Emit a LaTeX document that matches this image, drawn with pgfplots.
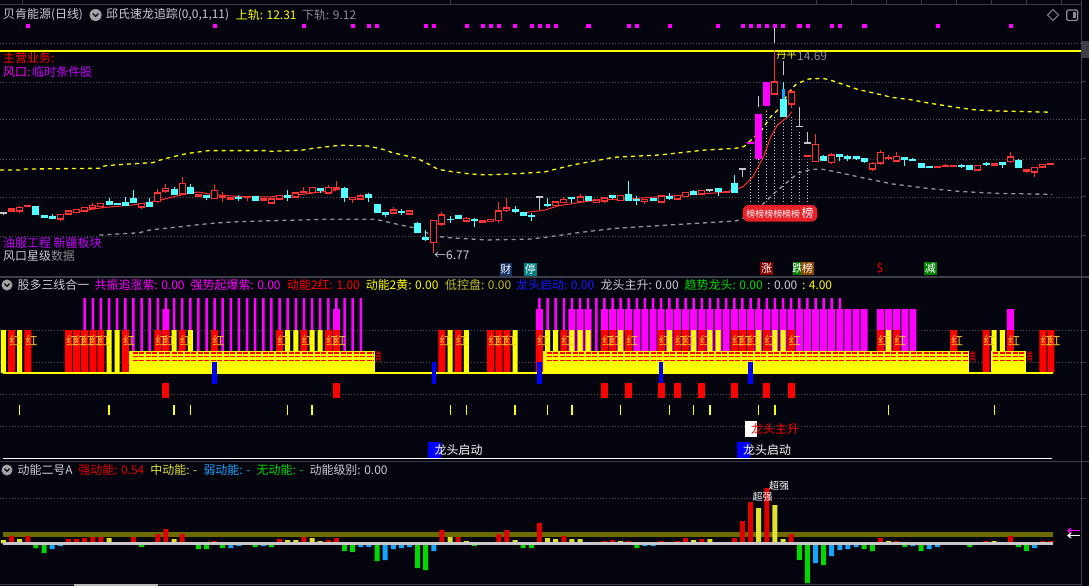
\documentclass[border=0pt]{standalone}
\usepackage{pgfplots}
\pgfplotsset{compat=1.18}
\usepackage{pgfplotstable}
\usepackage{fontspec}
\setmainfont{Noto Sans CJK SC}

\definecolor{bg}{RGB}{4,4,14}
\definecolor{gridc}{RGB}{80,80,90}
\definecolor{sepc}{RGB}{62,62,72}
\definecolor{candr}{RGB}{255,50,50}
\definecolor{candc}{RGB}{84,255,255}
\definecolor{candg}{RGB}{200,200,200}
\definecolor{mag}{RGB}{255,0,255}
\definecolor{purp}{RGB}{200,0,255}
\definecolor{yel}{RGB}{255,255,0}
\definecolor{lgray}{RGB}{205,205,210}
\definecolor{dgray}{RGB}{140,140,145}
\definecolor{lowband}{RGB}{150,150,150}
\definecolor{hong}{RGB}{245,200,40}
\definecolor{kred}{RGB}{225,0,0}
\definecolor{kyel}{RGB}{225,225,50}
\definecolor{kgrn}{RGB}{0,215,0}
\definecolor{kblu}{RGB}{20,165,255}
\definecolor{olive}{RGB}{107,107,0}
\definecolor{band}{RGB}{200,200,200}
\definecolor{lbred}{RGB}{232,32,40}

\newcommand{\tf}{\fontsize{12}{14}\selectfont}

% candles: index, low, body low, body high, high
\pgfplotstableread{
i l bl bh h
1 8.401 8.401 8.479 8.479
2 8.310 8.388 8.544 8.596
3 8.570 8.570 8.622 8.622
7 8.023 8.075 8.271 8.271
8 8.271 8.284 8.401 8.440
9 8.310 8.336 8.466 8.466
10 8.388 8.388 8.544 8.544
11 8.466 8.518 8.622 8.700
12 8.570 8.570 8.700 8.700
17 8.492 8.544 8.700 8.726
19 8.700 8.766 9.104 9.247
20 9.091 9.182 9.286 9.456
22 9.026 9.065 9.482 9.742
24 8.974 8.974 9.026 9.026
26 8.857 8.883 9.208 9.417
27 8.766 8.922 8.961 9.156
28 8.818 8.857 8.935 8.961
30 8.805 8.922 8.974 8.974
32 8.779 8.818 8.883 8.922
33 8.700 8.700 8.870 8.870
34 8.857 8.857 9.013 9.013
36 8.896 8.948 9.104 9.104
37 9.091 9.117 9.169 9.325
38 9.117 9.117 9.325 9.325
40 9.091 9.091 9.325 9.404
41 9.221 9.260 9.325 9.573
43 8.726 8.844 8.935 8.961
44 8.831 8.857 8.987 9.065
48 8.310 8.310 8.440 8.544
50 8.271 8.271 8.401 8.401
53 6.773 7.164 8.049 8.049
54 7.828 7.893 8.245 8.375
57 7.971 7.997 8.127 8.154
59 7.971 7.971 8.023 8.023
60 7.997 7.997 8.088 8.088
61 7.945 8.023 8.401 8.752
62 8.375 8.427 8.518 8.896
68 8.610 8.610 8.753 8.753
69 8.701 8.727 8.857 8.935
71 8.740 8.766 8.948 9.052
73 8.740 8.740 8.831 8.831
74 8.727 8.792 8.922 8.961
76 8.805 8.805 9.013 9.013
79 8.675 8.766 8.857 8.857
81 8.740 8.740 8.987 8.987
83 8.857 8.857 9.013 9.013
84 8.961 8.961 9.130 9.130
86 9.065 9.065 9.209 9.209
89 9.117 9.117 9.157 9.157
95 12.959 12.959 13.453 14.690
97 12.412 12.568 13.063 13.154
99 10.537 10.537 10.563 10.563
100 10.329 10.329 11.005 11.396
102 10.224 10.289 10.589 10.654
107 9.977 10.029 10.263 10.329
108 10.198 10.263 10.693 10.784
109 10.394 10.459 10.485 10.589
110 10.342 10.342 10.537 10.719
115 10.107 10.107 10.133 10.133
116 10.133 10.146 10.172 10.224
117 10.133 10.133 10.185 10.185
120 9.990 9.990 10.185 10.185
122 10.185 10.185 10.263 10.263
124 10.289 10.329 10.511 10.693
126 9.873 9.951 10.029 10.029
127 9.742 9.912 10.107 10.133
128 10.107 10.107 10.224 10.224
129 10.198 10.224 10.250 10.276
}\upc

\pgfplotstableread{
i l bl bh h
4 8.271 8.271 8.583 8.583
5 8.114 8.141 8.206 8.245
6 8.114 8.114 8.180 8.271
13 8.635 8.674 8.766 8.909
14 8.622 8.661 8.687 8.726
15 8.609 8.609 8.726 8.935
16 8.726 8.726 8.870 9.221
18 8.570 8.570 8.752 8.896
21 9.013 9.039 9.247 9.351
23 9.065 9.078 9.325 9.456
25 8.818 8.922 9.013 9.013
29 8.805 8.909 8.935 9.013
31 8.779 8.818 8.961 8.987
35 8.805 8.922 8.987 9.208
39 9.117 9.195 9.273 9.299
42 8.739 8.922 9.260 9.351
45 8.766 8.922 9.039 9.117
46 8.336 8.336 8.635 8.635
47 8.154 8.271 8.336 8.375
49 8.258 8.362 8.388 8.479
51 7.568 7.568 7.919 7.984
52 7.216 7.307 7.372 7.659
55 7.945 8.062 8.088 8.206
56 8.075 8.114 8.206 8.245
58 7.789 8.036 8.062 8.114
63 8.310 8.401 8.440 8.596
64 8.232 8.232 8.336 8.336
65 8.023 8.206 8.232 8.310
67 8.571 8.623 8.649 8.896
70 8.701 8.883 8.909 8.961
72 8.792 8.805 8.948 8.948
75 8.870 8.935 9.000 9.026
77 8.805 8.805 9.026 9.573
78 8.649 8.805 8.831 8.987
80 8.805 8.805 8.870 8.870
82 8.831 8.896 8.961 9.091
85 9.026 9.065 9.143 9.222
88 9.000 9.157 9.261 9.300
90 9.117 9.117 9.456 9.808
96 12.086 12.086 12.763 13.453
101 10.368 10.368 10.511 10.589
103 10.368 10.524 10.589 10.615
104 10.368 10.433 10.524 10.589
105 10.394 10.433 10.524 10.550
106 10.289 10.342 10.433 10.433
111 10.172 10.394 10.485 10.485
112 10.355 10.355 10.394 10.459
113 10.068 10.094 10.237 10.263
114 10.068 10.120 10.146 10.172
118 10.094 10.159 10.185 10.224
119 10.029 10.029 10.159 10.159
121 10.172 10.224 10.263 10.302
123 10.094 10.237 10.302 10.302
125 10.068 10.094 10.368 10.420
}\downc

\pgfplotstableread{
i l bl bh h
92 11.030 11.030 11.060 11.060
93 10.459 10.459 12.151 12.151
94 12.503 12.503 13.414 13.414
}\magc

\pgfplotstableread{
i l bl bh h
0 8.245 8.297 8.323 8.375
66 8.440 8.948 8.974 8.974
87 9.157 9.196 9.222 9.261
91 9.742 10.016 10.042 10.042
98 11.683 11.683 11.709 12.451
99 11.045 11.045 11.058 11.500
}\grayc

\pgfplotstableread{
i lo hi
93 12.477 12.893
95 14.960 15.550
96 13.714 14.274
}\grayw

\pgfplotstableread{
i lo hi
92 8.74 10.85
93 8.74 10.46
94 8.74 12.35
95 8.74 12.09
96 8.74 11.89
97 8.74 12.09
98 8.74 11.50
99 8.74 10.33
}\guides

\pgfplotstableread{
i lo hi
96 12.763 13.167
}\bluein

% middle panel
\pgfplotstableread{
i v
1 43
3 43
8 43
9 43
10 43
11 43
12 43
15 43
19 43
20 43
22 43
26 43
34 43
37 43
40 43
41 43
54 43
56 43
60 43
61 43
62 43
66 43
69 43
74 43
75 43
77 43
81 43
83 43
84 43
86 43
90 43
91 43
92 43
94 43
97 43
108 43
110 43
117 43
121 43
124 43
128 43
129 43
}\redbars

\pgfplotstableread{
i lo hi
26 -11 11
53 -11 11
66 -11 11
81 -11 11
92 -11 11
}\bluebars

\pgfplotstableread{
i lo hi
20 -25 -10
41 -25 -10
74 -25 -10
77 -25 -10
81 -25 -10
83 -25 -10
86 -25 -10
90 -25 -10
94 -25 -10
97 -25 -10
}\lowred

\pgfplotstableread{
i lo hi
2 -42 -32
13 -42 -32
21 -42 -32
23 -42 -32
35 -42 -32
38 -42 -32
55 -42 -32
57 -42 -32
63 -42 -32
67 -42 -32
70 -42 -32
76 -42 -32
82 -42 -32
85 -42 -32
87 -42 -32
93 -42 -32
95 -42 -32
109 -42 -32
122 -42 -32
}\ticksy

\pgfplotstableread{
i v
45.7 16.5
118.9 16.5
125.9 16.5
}\qingpos

% bottom panel: heights above / below the base band
\pgfplotstableread{
i v
1 6
3 6
8 3
9 3
10 4
11 5
12 5
16 5
19 8
20 13
22 8
26 1
34 3
37 5
40 2
41 4
54 12
56 5
61 8
62 12
66 19
69 6
74 1
75 2
77 1
81 1
83 1
84 4
86 3
90 4
91 21
92 40
94 54
97 8
108 4
110 1
121 1
124 6
128 1
129 1
}\ered

\pgfplotstableread{
i v
0 2
2 3
13 4
21 3
35 2
36 2
38 4
39 1
55 5
57 1
63 2
67 4
68 3
70 3
71 3
76 1
85 2
87 3
93 34
95 37
96 3
109 1
122 1
}\eyel

\pgfplotstableread{
i v
4 3.3
5 8.3
17 2.3
24 4.3
25 4.3
27 3.3
31 2.3
33 2.3
42 6.3
43 7.3
46 16.3
51 23.3
52 25.3
58 1.3
64 3.3
65 3.3
78 3.3
98 15.3
99 38.3
101 20.3
106 4.3
107 6.3
111 2.3
113 6.3
119 2.3
125 2.3
126 6.3
}\egrn

\pgfplotstableread{
i v
6 4.3
7 1.3
28 3.3
29 1.3
32 1.3
44 2.3
45 2.3
47 15.3
48 4.3
49 3.3
50 2.3
53 6.3
79 1.3
80 1.3
100 18.3
102 11.3
103 5.3
104 4.3
105 2.3
112 1.3
114 4.3
115 2.3
127 3.3
}\eblu

% vertical spans drawn as wide error bars
\newcommand{\spans}[4][]{\addplot[draw=none, mark=none, forget plot,
  error bars/.cd, y dir=plus, y explicit, error mark=none,
  error bar style={draw=#3, solid, line width=#4, #1}]
  table[x=i, y=lo, y error plus expr=\thisrow{hi}-\thisrow{lo}] {#2};}
\newcommand{\wicks}[2]{\addplot[draw=none, mark=none, forget plot,
  error bars/.cd, y dir=plus, y explicit, error mark=none,
  error bar style={draw=#2, solid, line width=1bp}]
  table[x=i, y=l, y error plus expr=\thisrow{h}-\thisrow{l}] {#1};}
\newcommand{\bodies}[2]{\addplot[draw=none, mark=none, forget plot,
  error bars/.cd, y dir=plus, y explicit, error mark=none,
  error bar style={draw=#2, solid, line width=7bp}]
  table[x=i, y expr=\thisrow{bl}-0.02, y error plus expr=\thisrow{bh}-\thisrow{bl}+0.04] {#1};}
\newcommand{\hollow}[1]{\addplot[draw=none, mark=none, forget plot,
  error bars/.cd, y dir=plus, y explicit, error mark=none,
  error bar style={draw=bg, solid, line width=5bp}]
  table[x=i, y expr=\thisrow{bl}+0.039, y error plus expr={max(\thisrow{bh}-\thisrow{bl}-0.078,0)}] {#1};}

\pgfplotsset{panel/.style={scale only axis, width=1081.5bp, anchor=north west,
  xmin=-0.431, xmax=132.76, axis line style={draw=none},
  xtick=\empty, yticklabels={}, major tick length=0pt,
  ymajorgrids, major grid style={gridc, line width=0.8bp, dash pattern=on 1bp off 2bp}}}

\begin{document}
\begin{tikzpicture}[x=1bp, y=1bp]
\useasboundingbox (0,0) rectangle (1089,-586);
\fill[bg] (0,0) rectangle (1089,-586);

% ---------- price panel ----------
\begin{axis}[panel, at={(0bp,0bp)}, height=277bp, ymin=5.823, ymax=16.643,
  ytick={7.42,8.95,10.43,11.96,13.44,14.96}]
\addplot[yel, line width=2.2bp] coordinates {(-0.5,14.65)(133,14.65)};
\addplot[yel, line width=1.3bp, dash pattern=on 4bp off 4bp] coordinates {
(-0.43,10.00)(2.14,10.00)(2.57,10.04)(12.0,10.07)(12.4,10.16)(13.7,10.20)(16.7,10.26)(18.4,10.29)(19.3,10.39)(20.1,10.46)(21.8,10.59)(22.7,10.65)(25.3,10.76)(32.5,10.76)(33.0,10.73)(36.8,10.78)(38.1,10.85)(40.7,10.94)(41.5,10.97)(44.9,10.94)(46.7,10.81)(47.9,10.68)(50.9,10.46)(52.2,10.26)(53.5,10.03)(55.2,9.94)(57.4,9.85)(59.5,9.81)(63.8,9.87)(66.7,9.93)(70.1,10.20)(75.2,10.50)(80.8,10.59)(86.3,10.78)(90.2,10.85)(91.2,10.92)(92.3,11.24)(93.4,11.57)(94.5,12.09)(95.8,12.48)(96.6,13.00)(97.5,13.32)(98.3,13.45)(99.2,13.56)(100.9,13.58)(101.8,13.52)(103.0,13.39)(105.2,13.15)(107.7,12.97)(109.4,12.84)(111.9,12.74)(113.7,12.63)(117.5,12.44)(119.7,12.35)(122.3,12.31)(128.9,12.26)};
\addplot[lowband, line width=1.3bp, dash pattern=on 4bp off 4bp] coordinates {
(11.8,7.46)(16.7,7.55)(18.0,7.66)(21.0,7.76)(24.4,7.88)(27.0,7.95)(29.5,7.99)(39.8,8.08)(45.8,8.08)(48.4,7.89)(50.9,7.72)(53.1,7.42)(54.8,7.36)(59.5,7.27)(64.6,7.30)(66.7,7.37)(70.9,7.56)(75.2,7.72)(83.8,7.89)(90.2,8.01)(91.5,8.18)(93.2,8.57)(94.9,9.09)(96.6,9.55)(97.9,9.90)(99.6,10.03)(100.9,10.03)(103.0,9.90)(105.2,9.74)(109.4,9.46)(113.7,9.29)(118.0,9.16)(122.3,9.09)(129.1,9.05)};
\spans[dash pattern=on 1.5bp off 1.5bp]{\guides}{lgray}{1bp}
\addplot[candr, line width=1bp] coordinates {
(9.0,8.375)(12.4,8.54)(15.4,8.62)(16.7,8.67)(18.8,8.79)(21.0,8.96)(22.7,9.09)(24.0,9.14)(26.0,9.03)(30.0,8.95)(34.0,8.96)(37.0,9.06)(39.0,9.14)(41.0,9.20)};
\addplot[candr, line width=1bp] coordinates {
(64.0,8.33)(66.7,8.44)(68.4,8.61)(70.9,8.73)(73.1,8.83)(77.4,8.88)(80.8,8.96)(84.6,9.03)(86.8,9.09)(88.9,9.13)(91.1,9.35)(92.3,9.74)(93.6,10.52)(94.5,11.30)(95.3,11.76)(96.6,12.09)(97.1,12.28)};
\wicks{\grayc}{candg}
\bodies{\grayc}{candg}
\spans{\grayw}{candg}{1bp}
\wicks{\downc}{candc}
\bodies{\downc}{candc}
\spans{\bluein}{kblu}{3bp}
\wicks{\magc}{mag}
\bodies{\magc}{mag}
\wicks{\upc}{candr}
\bodies{\upc}{candr}
\hollow{\upc}
\addplot[only marks, mark=square*, mark size=1.6bp, mag] coordinates {
(3,15.63)(26,15.63)(37,15.63)(43,15.63)(45,15.63)(46,15.63)(52,15.63)(53,15.63)(57,15.63)(59,15.63)(60,15.63)(61,15.63)(63,15.63)(65,15.63)(66,15.63)(67,15.63)(68,15.63)(72,15.63)(77,15.63)(78,15.63)(82,15.63)(88,15.63)(91,15.63)(92,15.63)(93,15.63)(94,15.63)(95,15.63)(96,15.63)(98,15.63)(99,15.63)(102,15.63)(103,15.63)(106,15.63)(115,15.63)(124,15.63)};
\end{axis}

% ---------- middle panel ----------
\begin{axis}[panel, at={(0bp,-277bp)}, height=184.5bp, ymin=-88.5, ymax=96,
  ytick={43,11,-21,-53}]
\addplot[ybar, bar width=2.5bp, bar shift=0pt, fill=mag, draw=none] coordinates {
(10,75)(11,75)(12,75)(13,75)(14,75)(15,75)(16,75)(17,75)(18,75)(19,75)(20,75)(21,75)(22,75)(23,75)(24,75)(25,75)(26,75)(27,75)(28,75)(29,75)(30,75)(31,75)(32,75)(33,75)(34,75)(35,75)(36,75)(37,75)(38,75)(39,75)(40,75)(41,75)(42,75)(43,75)(44,75)
(66,75)(67,75)(68,75)(69,75)(70,75)(71,75)(72,75)(73,75)(74,75)(75,75)(76,75)(77,75)(78,75)(79,75)(80,75)(81,75)(82,75)(83,75)(84,75)(85,75)(86,75)(87,75)(88,75)(89,75)(90,75)(91,75)(92,75)(93,75)(94,75)(95,75)(96,75)(97,75)(98,75)(99,75)(100,75)(101,75)(102,75)(103,75)};
\addplot[ybar, bar width=7bp, bar shift=0pt, fill=mag, draw=none] coordinates {
(20,64)(41,64)(66,64)(70,64)(71,64)(72,64)(74,64)(75,64)(76,64)(77,64)(78,64)(79,64)(80,64)(81,64)(82,64)(83,64)(84,64)(85,64)(86,64)(87,64)(88,64)(89,64)(90,64)(91,64)(92,64)(93,64)(94,64)(95,64)(96,64)(97,64)(98,64)(99,64)(100,64)(101,64)(102,64)(103,64)(104,64)(105,64)(106,64)(108,64)(109,64)(110,64)(111,64)(112,64)(124,64)};
\addplot[ybar, bar width=7bp, bar shift=0pt, fill=red, draw=none] table[x=i, y=v] {\redbars};
\addplot[ybar, bar width=5bp, bar shift=0pt, fill=yel, draw=none] coordinates {
(0,43)(2,43)(13,43)(14,43)(21,43)(23,43)(35,43)(36,43)(38,43)(39,43)(55,43)(57,43)(63,43)(67,43)(68,43)(70,43)(71,43)(72,43)(76,43)(82,43)(85,43)(87,43)(88,43)(93,43)(95,43)(96,43)(109,43)(122,43)(123,43)};
\addplot[draw=none, mark=none, nodes near coords={红},
  nodes near coords style={anchor=west, inner sep=0pt, xshift=-2.5bp, text=hong, font=\tf}]
  table[x=i, y expr=32.5] {\redbars};
\addplot[fill=yel, draw=none] coordinates {(15.4,0)(15.4,22)(45.7,22)(45.7,0)} --cycle;
\addplot[fill=yel, draw=none] coordinates {(66.4,0)(66.4,22)(118.9,22)(118.9,0)} --cycle;
\addplot[fill=yel, draw=none] coordinates {(121.6,0)(121.6,22)(125.9,22)(125.9,0)} --cycle;
\addplot[yel, line width=1.5bp] coordinates {(-0.06,0)(129.2,0)};
\addplot[red, line width=1.3bp, dash pattern=on 5bp off 1.5bp] coordinates {(15.9,20)(45.6,20)};
\addplot[red, line width=1.3bp, dash pattern=on 5bp off 1.5bp] coordinates {(15.9,16.3)(45.6,16.3)};
\addplot[red, line width=1.3bp, dash pattern=on 5bp off 1.5bp] coordinates {(15.9,12.6)(45.6,12.6)};
\addplot[red, line width=1.3bp, dash pattern=on 5bp off 1.5bp] coordinates {(66.9,20)(118.8,20)};
\addplot[red, line width=1.3bp, dash pattern=on 5bp off 1.5bp] coordinates {(66.9,16.3)(118.8,16.3)};
\addplot[red, line width=1.3bp, dash pattern=on 5bp off 1.5bp] coordinates {(66.9,12.6)(118.8,12.6)};
\addplot[red, line width=1.3bp, dash pattern=on 5bp off 1.5bp] coordinates {(121.9,20)(125.8,20)};
\addplot[red, line width=1.3bp, dash pattern=on 5bp off 1.5bp] coordinates {(121.9,16.3)(125.8,16.3)};
\addplot[red, line width=1.3bp, dash pattern=on 5bp off 1.5bp] coordinates {(121.9,12.6)(125.8,12.6)};
\addplot[draw=none, mark=none, nodes near coords={\scalebox{0.6}[1]{青}},
  nodes near coords style={anchor=west, inner sep=0pt, text=red, font=\tf}]
  table[x=i, y=v] {\qingpos};
\spans{\bluebars}{blue}{4.5bp}
\spans{\lowred}{red}{7bp}
\spans{\ticksy}{yel}{1.2bp}
\end{axis}

% ---------- bottom panel ----------
\begin{axis}[panel, at={(0bp,-461.5bp)}, height=124.5bp, ymin=-42.7, ymax=81.8,
  ytick={45.3}]
\addplot[fill=olive, draw=none] coordinates {(-0.06,6.3)(-0.06,11.3)(129.2,11.3)(129.2,6.3)} --cycle;
\addplot[ybar, bar width=5bp, bar shift=0pt, fill=kred, draw=none] table[x=i, y expr=\thisrow{v}+1.3] {\ered};
\addplot[ybar, bar width=5bp, bar shift=0pt, fill=kyel, draw=none] table[x=i, y expr=\thisrow{v}+1.3] {\eyel};
\addplot[ybar, bar width=5bp, bar shift=0pt, fill=kgrn, draw=none] table[x=i, y expr=-\thisrow{v}-1.4] {\egrn};
\addplot[ybar, bar width=5bp, bar shift=0pt, fill=kblu, draw=none] table[x=i, y expr=-\thisrow{v}-1.4] {\eblu};
\addplot[fill=band, draw=none] coordinates {(-0.06,-1.35)(-0.06,1.35)(129.2,1.35)(129.2,-1.35)} --cycle;
\end{axis}

% ---------- frame ----------
\draw[sepc, line width=1.5bp] (0,-277) -- (1089,-277);
\draw[sepc, line width=1.5bp] (0,-461.5) -- (1089,-461.5);
\draw[sepc, line width=1.2bp] (1081.5,0) -- (1081.5,-586);
\draw[sepc, line width=1bp] (0,-5) -- (1081.5,-5);
\draw[sepc, line width=1.2bp] (0,-584.5) -- (1081.5,-584.5);
\draw[dgray!60, line width=2bp] (74,-584.5) -- (158,-584.5);
\foreach \xx in {22.6,450.8,816.7,851.4,886.4,921.5,956.5,991.6,1026.6,1061.6}
  \draw[sepc, line width=1bp] (\xx,0) -- (\xx,-5);
\foreach \yy in {43,82,120,159,197,236,330,362,394,426,498}
  \draw[sepc, line width=1bp] (1081.5,-\yy) -- (1086,-\yy);
\fill[sepc] (1082,-41) rectangle (1089,-58);
\draw[dgray, line width=1bp] (1053,-9.5) -- (1058.5,-15) -- (1053,-20.5) -- (1047.5,-15) -- cycle;
\draw[dgray, line width=1.2bp, rounded corners=1.5bp] (1066.7,-10) rectangle (1077.7,-20.5);
\fill[dgray] (1072.7,-12) rectangle (1075.7,-18.5);

% ---------- titles ----------
\fill[dgray!80] (95.6,-15) circle (6bp);
\draw[bg, line width=1.2bp] (92.8,-13.6) -- (95.6,-16.4) -- (98.4,-13.6);
\fill[dgray!80] (7,-285) circle (5.5bp);
\draw[bg, line width=1.2bp] (4.4,-283.7) -- (7,-286.3) -- (9.6,-283.7);
\fill[dgray!80] (7,-470) circle (5.5bp);
\draw[bg, line width=1.2bp] (4.4,-468.7) -- (7,-471.3) -- (9.6,-468.7);

\begin{scope}[every node/.style={anchor=west, inner sep=0pt, font=\tf}]
\node[text=lgray] at (3,-15) {贝肯能源(日线)};
\node[text=lgray] at (106,-15) {邱氏速龙追踪(0,0,1,11)};
\node[text=yel] at (235.7,-15) {上轨: 12.31};
\node[text=dgray] at (302,-15) {下轨: 9.12};

\node[text=red] at (3,-58) {主营业务:};
\node at (3,-71.5) {\textcolor{mag}{风口:}\,\textcolor{purp}{临时条件股}};
\node[text=purp] at (3,-242.7) {油服工程 新疆板块};
\node at (3,-256) {\textcolor{lgray}{风口星级}\textcolor{dgray}{数据}};
\node[text=lgray] at (434,-255.7) {←6.77};
\node[text=dgray] at (797,-56.5) {14.69};
\node[text=yel, font=\fontsize{10}{10}\selectfont] at (776.5,-55) {丹平};

\node[text=lgray] at (17.4,-285) {股多三线合一};
\node[text=mag] at (94.5,-285) {共振追涨紫: 0.00};
\node[text=mag] at (190.5,-285) {强势起爆紫: 0.00};
\node[text=red] at (287,-285) {动能2红: 1.00};
\node[text=yel] at (365.6,-285) {动能2黄: 0.00};
\node[text=kyel!85!black] at (445,-285) {低控盘: 0.00};
\node[text=blue!90!white] at (516,-285) {龙头启动: 0.00};
\node[text=lgray] at (600.5,-285) {龙头主升: 0.00};
\node[text=kgrn] at (684.5,-285) {趋势龙头: 0.00};
\node[text=lgray] at (767,-285) {: 0.00};
\node[text=yel] at (801.8,-285) {: 4.00};

\node[text=lgray] at (17.4,-470) {动能二号A};
\node[text=kred] at (78.2,-470) {强动能: 0.54};
\node[text=kyel] at (150.2,-470) {中动能: -};
\node[text=kblu] at (203.3,-470) {弱动能: -};
\node[text=kgrn] at (256.5,-470) {无动能: -};
\node[text=lgray] at (309.4,-470) {动能级别: 0.00};
\end{scope}

% badges under the price panel
\fill[fill={rgb,255:red,20;green,50;blue,100}] (500,-263.3) rectangle (511.7,-275.7);
\node[text=white, font=\fontsize{11}{11}\selectfont, inner sep=0pt] at (505.9,-269.5) {财};
\fill[fill={rgb,255:red,0;green,128;blue,128}] (524,-263.3) rectangle (536.7,-275.7);
\node[text=white, font=\fontsize{11}{11}\selectfont, inner sep=0pt] at (530.4,-269.5) {停};
\fill[fill={rgb,255:red,128;green,0;blue,0}] (760,-261.7) rectangle (773.3,-275);
\node[text=white, font=\fontsize{11}{11}\selectfont, inner sep=0pt] at (766.7,-268.4) {涨};
\fill[fill={rgb,255:red,0;green,128;blue,0}] (792.7,-261.7) rectangle (801.7,-275);
\node[text=white, font=\fontsize{11}{11}\selectfont, inner sep=0pt] at (797.5,-268.4) {跌};
\fill[fill={rgb,255:red,140;green,70;blue,0}] (801,-261.7) rectangle (814,-275);
\node[text=white, font=\fontsize{11}{11}\selectfont, inner sep=0pt] at (807.5,-268.4) {榜};
\node[text=red, font=\tf, inner sep=0pt] at (880,-268.5) {\$};
\fill[fill={rgb,255:red,0;green,128;blue,0}] (924,-261.7) rectangle (936.7,-275);
\node[text=white, font=\fontsize{11}{11}\selectfont, inner sep=0pt] at (930.4,-268.4) {减};
\node[fill=lbred, rounded corners=6bp, minimum width=74.6bp, minimum height=16.7bp,
  inner sep=0pt, text=white, font=\fontsize{9}{9}\selectfont] at (780,-213.3)
  {榜榜榜榜榜榜\,{\fontsize{12}{12}\selectfont 榜}};

% labels in the middle panel
\fill[white] (744.9,-421) rectangle (757.4,-437);
\node[anchor=west, inner sep=0pt, text=red, font=\tf] at (751,-429) {龙头主升};
\fill[blue] (428.2,-442) rectangle (440.7,-458);
\node[anchor=west, inner sep=0pt, text=white, font=\tf] at (434.5,-450) {龙头启动};
\fill[blue] (736.9,-442) rectangle (750,-458);
\node[anchor=west, inner sep=0pt, text=white, font=\tf] at (743,-450) {龙头启动};
\draw[white, line width=1.3bp] (3,-458.5) -- (1051.6,-458.5);

% bottom panel extras
\node[text=white, inner sep=0pt, font=\fontsize{10}{10}\selectfont] at (762.5,-497) {超强};
\node[text=white, inner sep=0pt, font=\fontsize{10}{10}\selectfont] at (779,-486) {超强};
\draw[mag, line width=1.2bp] (1080,-530.6) -- (1068,-530.6);
\draw[mag, line width=1.2bp] (1071,-528) -- (1068,-530.6) -- (1071,-533.2);
\draw[white, line width=1.2bp] (1080,-535.5) -- (1068,-535.5);
\draw[white, line width=1.2bp] (1071,-533) -- (1068,-535.5) -- (1071,-538);
\end{tikzpicture}
\end{document}
